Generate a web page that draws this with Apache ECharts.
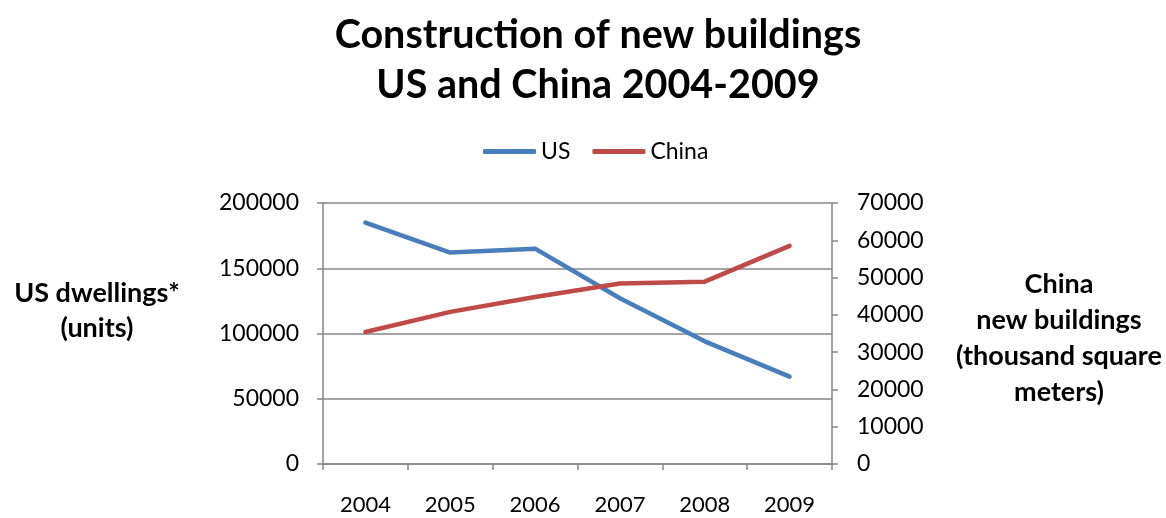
<!DOCTYPE html>
<html><head><meta charset="utf-8">
<script src="https://cdn.jsdelivr.net/npm/echarts@6/dist/echarts.min.js"></script>
<style>html,body{margin:0;padding:0;background:#fff}#c{width:1166px;height:518px}</style>
</head><body><div id="c"></div>
<script>
const years = ['2004','2005','2006','2007','2008','2009'];
const usValues = [185000, 162000, 165000, 127000, 94000, 67000];
const chinaValues = [35400, 40800, 44800, 48400, 48900, 58500];
const FONT = 'Lato';
const chart = echarts.init(document.getElementById('c'));
chart.setOption({
  animation: false,
  title: [
    {text: 'Construction of new buildings\nUS and China 2004-2009', left: 593, top: 5, textAlign: 'center',
     textStyle: {fontFamily: FONT, fontWeight: 'bold', fontSize: 39.5, lineHeight: 50, color: '#000'}},
    {text: 'US dwellings*\n(units)', left: 92, top: 271, textAlign: 'center',
     textStyle: {fontFamily: FONT, fontWeight: 'bold', fontSize: 27, lineHeight: 35, color: '#000'}},
    {text: 'China\nnew buildings\n(thousand square\nmeters)', left: 1054, top: 261, textAlign: 'center',
     textStyle: {fontFamily: FONT, fontWeight: 'bold', fontSize: 27, lineHeight: 36, color: '#000'}}
  ],
  legend: {
    top: 135, left: 478, itemWidth: 53, itemHeight: 5, itemGap: 22,
    icon: 'roundRect',
    textStyle: {fontFamily: FONT, fontSize: 23, color: '#000'},
    data: ['US', 'China']
  },
  grid: {left: 323, right: 334, top: 203, bottom: 54, containLabel: false},
  xAxis: {
    type: 'category', data: years, boundaryGap: true,
    axisLine: {lineStyle: {color: '#868686', width: 1.5}},
    axisTick: {show: true, length: 6, lineStyle: {color: '#868686', width: 1.5}},
    axisLabel: {fontFamily: FONT, fontSize: 22, color: '#000', margin: 30}
  },
  yAxis: [
    {type: 'value', min: 0, max: 200000, interval: 50000, position: 'left',
     axisLine: {show: true, lineStyle: {color: '#868686', width: 1.5}},
     axisTick: {show: true, length: 6, lineStyle: {color: '#868686', width: 1.5}},
     splitLine: {lineStyle: {color: '#868686', width: 1.5}},
     axisLabel: {fontFamily: FONT, fontSize: 23, color: '#000', margin: 24, formatter: v => String(v)}},
    {type: 'value', min: 0, max: 70000, interval: 10000, position: 'right',
     axisLine: {show: true, lineStyle: {color: '#868686', width: 1.5}},
     axisTick: {show: true, length: 6, lineStyle: {color: '#868686', width: 1.5}},
     splitLine: {show: false},
     axisLabel: {fontFamily: FONT, fontSize: 23, color: '#000', margin: 25, formatter: v => String(v)}}
  ],
  series: [
    {name: 'US', type: 'line', data: usValues, yAxisIndex: 0, symbol: 'none',
     lineStyle: {color: '#4a7ebb', width: 4.5, cap: 'round', join: 'round'}, itemStyle: {color: '#4a7ebb'}},
    {name: 'China', type: 'line', data: chinaValues, yAxisIndex: 1, symbol: 'none',
     lineStyle: {color: '#be4b48', width: 4.5, cap: 'round', join: 'round'}, itemStyle: {color: '#be4b48'}}
  ]
});
</script></body></html>
